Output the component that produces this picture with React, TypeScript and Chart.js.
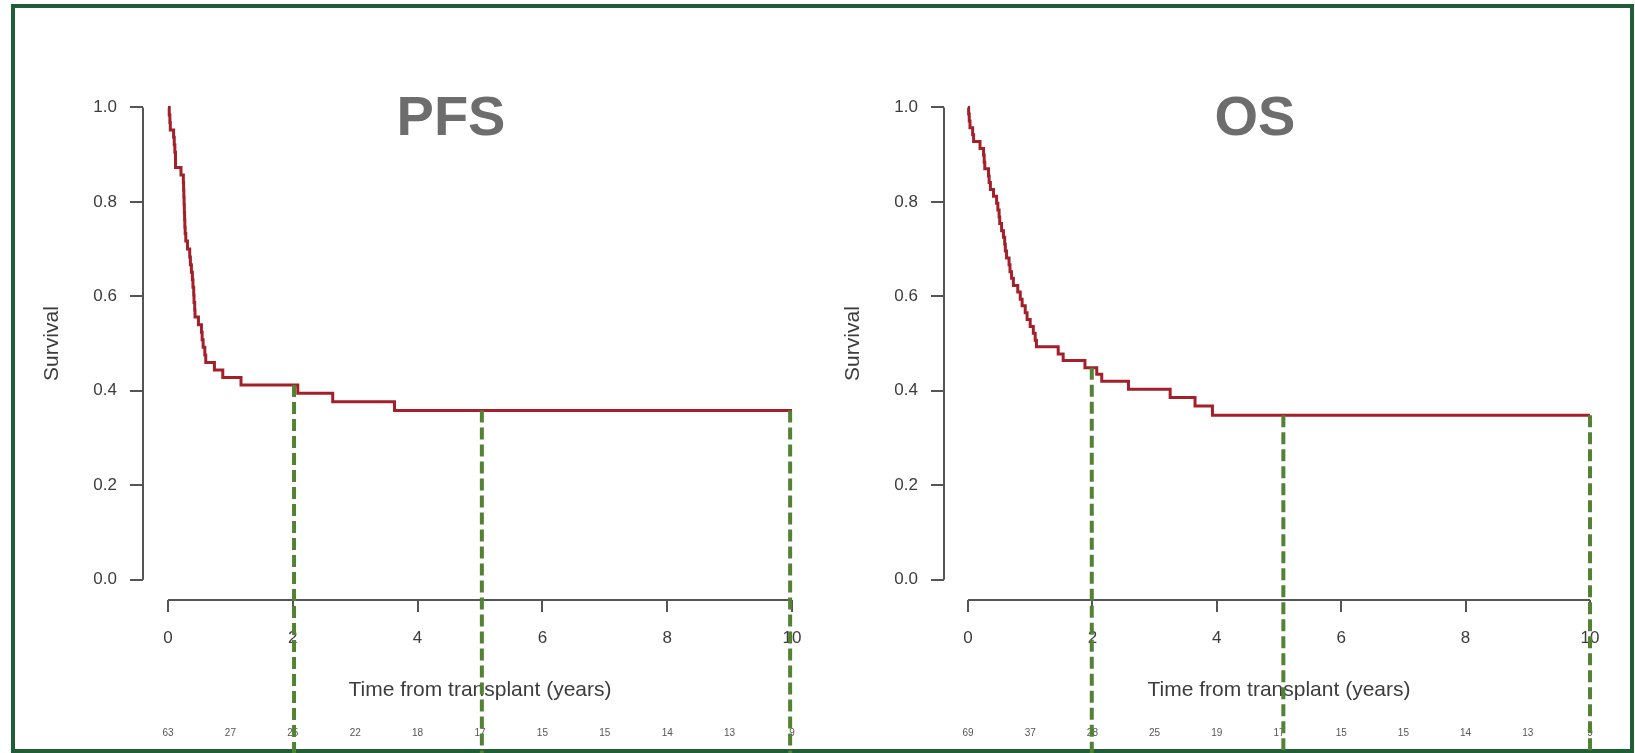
import React, { useEffect, useRef } from "react";
import { Chart, registerables } from "chart.js";

Chart.register(...registerables);

// ---------- data ----------
const X_TICKS = [0, 2, 4, 6, 8, 10];
const Y_TICKS = [0, 0.2, 0.4, 0.6, 0.8, 1.0];
const RISK_TIMES = [0, 1, 2, 3, 4, 5, 6, 7, 8, 9, 10];

const PFS_TIME = [0, 0.02, 0.03, 0.037, 0.09, 0.1, 0.11, 0.12, 0.208, 0.246, 0.25, 0.254, 0.258, 0.262, 0.266, 0.27, 0.275, 0.285, 0.312, 0.348, 0.359, 0.375, 0.391, 0.4, 0.412, 0.417, 0.428, 0.433, 0.488, 0.536, 0.547, 0.563, 0.59, 0.605, 0.744, 0.878, 1.17, 2.08, 2.64, 3.63, 10];
const PFS_SURV = [1.0, 0.984, 0.968, 0.952, 0.937, 0.921, 0.905, 0.873, 0.857, 0.841, 0.825, 0.81, 0.794, 0.778, 0.762, 0.746, 0.733, 0.717, 0.7, 0.683, 0.667, 0.651, 0.635, 0.619, 0.603, 0.587, 0.571, 0.556, 0.54, 0.524, 0.508, 0.492, 0.476, 0.46, 0.444, 0.428, 0.412, 0.395, 0.377, 0.358, 0.358];
const PFS_RISK = [63, 27, 25, 22, 18, 17, 15, 15, 14, 13, 9];
const PFS_MARKS = [2.02, 5.03, 9.97];

const OS_TIME = [0, 0.01, 0.02, 0.032, 0.075, 0.09, 0.193, 0.25, 0.26, 0.27, 0.33, 0.34, 0.36, 0.41, 0.46, 0.48, 0.5, 0.51, 0.54, 0.57, 0.59, 0.6, 0.62, 0.66, 0.675, 0.7, 0.73, 0.8, 0.84, 0.87, 0.92, 0.95, 1.0, 1.05, 1.08, 1.1, 1.45, 1.53, 1.88, 2.07, 2.15, 2.58, 3.25, 3.65, 3.93, 10];
const OS_SURV = [1.0, 0.986, 0.971, 0.957, 0.942, 0.928, 0.913, 0.899, 0.884, 0.87, 0.855, 0.841, 0.826, 0.812, 0.797, 0.783, 0.768, 0.754, 0.739, 0.725, 0.71, 0.696, 0.681, 0.667, 0.652, 0.638, 0.623, 0.609, 0.594, 0.58, 0.565, 0.551, 0.536, 0.522, 0.507, 0.493, 0.478, 0.464, 0.449, 0.435, 0.42, 0.403, 0.386, 0.368, 0.348, 0.348];
const OS_RISK = [69, 37, 28, 25, 19, 17, 15, 15, 14, 13, 9];
const OS_MARKS = [1.99, 5.07, 10.0];

// ---------- styles ----------
const FONT = '"Liberation Sans", Arial, sans-serif';
const AXIS_COLOR = "#555555";
const TEXT_COLOR = "#3c3c3c";
const CURVE_COLOR = "#a3202a";
const DASH_COLOR = "#548235";
const TITLE_COLOR = "#6d6d6d";
const FRAME_COLOR = "#1f5e36";

type Panel = {
  title: string;
  time: number[];
  surv: number[];
  risk: number[];
  marks: number[];
  width: number;
  chartLeft: number;
  chartRight: number;
  xMin: number;
  titleOffset: number;
};

function stepAt(time: number[], surv: number[], x: number) {
  let v = surv[0];
  for (let i = 0; i < time.length; i++) if (time[i] <= x) v = surv[i];
  return v;
}

const TOP = 107.4;
const BOTTOM = 600;
const H = 753;
const Y_MIN = -0.043;
const X_SCALE_H = 60;
const Y_SCALE_W = 60;

function makeChart(canvas: HTMLCanvasElement, p: Panel) {
  const data = p.time.map((t, i) => ({ x: t, y: p.surv[i] }));
  const overlay = {
    id: "kmOverlay",
    afterDraw(chart: any) {
      const { ctx, chartArea, scales } = chart;
      const xs = scales.x;
      const ys = scales.y;
      ctx.save();
      // axis lines (R style, spanning tick range only)
      const xl = xs.getPixelForValue(X_TICKS[0]);
      const xr = xs.getPixelForValue(X_TICKS[X_TICKS.length - 1]);
      const yb = ys.getPixelForValue(Y_TICKS[0]);
      const yt = ys.getPixelForValue(Y_TICKS[Y_TICKS.length - 1]);
      ctx.strokeStyle = AXIS_COLOR;
      ctx.lineWidth = 2;
      ctx.beginPath();
      ctx.moveTo(xl, chartArea.bottom);
      ctx.lineTo(xr, chartArea.bottom);
      ctx.moveTo(chartArea.left, yb);
      ctx.lineTo(chartArea.left, yt);
      ctx.stroke();

      // title
      ctx.fillStyle = TITLE_COLOR;
      ctx.font = `bold 56px ${FONT}`;
      ctx.textAlign = "center";
      ctx.textBaseline = "alphabetic";
      ctx.fillText(p.title, chartArea.left + p.titleOffset, chartArea.top + 28);

      // y title
      ctx.fillStyle = TEXT_COLOR;
      ctx.font = `21px ${FONT}`;
      ctx.save();
      ctx.translate(chartArea.left - 91, (yb + yt) / 2);
      ctx.rotate(-Math.PI / 2);
      ctx.textAlign = "center";
      ctx.textBaseline = "middle";
      ctx.fillText("Survival", 0, 0);
      ctx.restore();

      // x title
      ctx.textAlign = "center";
      ctx.textBaseline = "middle";
      ctx.fillText("Time from transplant (years)", (xl + xr) / 2, chartArea.bottom + 90);

      // numbers at risk
      ctx.font = `10px ${FONT}`;
      ctx.fillStyle = "#555555";
      RISK_TIMES.forEach((t, i) => {
        ctx.fillText(String(p.risk[i]), xs.getPixelForValue(t), chartArea.bottom + 133);
      });

      // dashed markers
      ctx.strokeStyle = DASH_COLOR;
      ctx.lineWidth = 4;
      ctx.setLineDash([12, 5]);
      p.marks.forEach((m) => {
        const x = xs.getPixelForValue(m);
        const y0 = ys.getPixelForValue(stepAt(p.time, p.surv, m));
        ctx.beginPath();
        ctx.moveTo(x, y0);
        ctx.lineTo(x, chart.height);
        ctx.stroke();
      });
      ctx.restore();
    },
  };

  return new Chart(canvas, {
    type: "line",
    data: {
      datasets: [
        {
          data,
          stepped: "before",
          borderColor: CURVE_COLOR,
          borderWidth: 3,
          pointRadius: 0,
          fill: false,
          clip: false as any,
          borderJoinStyle: "miter",
        } as any,
      ],
    },
    options: {
      responsive: false,
      animation: false,
      events: [],
      layout: {
        padding: {
          left: p.chartLeft - Y_SCALE_W,
          right: p.width - p.chartRight,
          top: TOP,
          bottom: H - BOTTOM - X_SCALE_H,
        },
      },
      plugins: { legend: { display: false }, tooltip: { enabled: false }, title: { display: false } },
      scales: {
        x: {
          type: "linear",
          min: p.xMin,
          max: 10,
          afterBuildTicks: (s: any) => {
            s.ticks = X_TICKS.map((v) => ({ value: v }));
          },
          afterFit: (s: any) => {
            s.height = X_SCALE_H;
          },
          border: { display: false },
          grid: { drawOnChartArea: false, drawTicks: true, tickLength: 12, color: AXIS_COLOR, lineWidth: 2 },
          ticks: {
            autoSkip: false,
            maxRotation: 0,
            padding: 16,
            color: TEXT_COLOR,
            font: { family: FONT, size: 17 },
            callback: (v: any) => String(v),
          },
        },
        y: {
          type: "linear",
          min: Y_MIN,
          max: 1,
          afterBuildTicks: (s: any) => {
            s.ticks = Y_TICKS.map((v) => ({ value: v }));
          },
          afterFit: (s: any) => {
            s.width = Y_SCALE_W;
          },
          border: { display: false },
          grid: { drawOnChartArea: false, drawTicks: true, tickLength: 13, color: AXIS_COLOR, lineWidth: 2 },
          ticks: {
            padding: 13,
            color: TEXT_COLOR,
            font: { family: FONT, size: 17 },
            callback: (v: any) => Number(v).toFixed(1),
          },
        },
      },
    },
    plugins: [overlay],
  } as any);
}

const PFS_PANEL: Panel = {
  title: "PFS",
  time: PFS_TIME,
  surv: PFS_SURV,
  risk: PFS_RISK,
  marks: PFS_MARKS,
  width: 820,
  chartLeft: 143,
  chartRight: 792,
  xMin: -0.4006,
  titleOffset: 308,
};

const OS_PANEL: Panel = {
  title: "OS",
  time: OS_TIME,
  surv: OS_SURV,
  risk: OS_RISK,
  marks: OS_MARKS,
  width: 815,
  chartLeft: 124,
  chartRight: 770,
  xMin: -0.3859,
  titleOffset: 311,
};

export default function App() {
  const r1 = useRef<HTMLCanvasElement>(null);
  const r2 = useRef<HTMLCanvasElement>(null);
  useEffect(() => {
    document.body.style.margin = "0";
    const c1 = makeChart(r1.current!, PFS_PANEL);
    const c2 = makeChart(r2.current!, OS_PANEL);
    return () => {
      c1.destroy();
      c2.destroy();
    };
  }, []);
  return (
    <div style={{ position: "fixed", left: 0, top: 0, width: 1635, height: 753, background: "#ffffff", overflow: "hidden" }}>
      <div
        style={{
          position: "absolute",
          left: 11,
          top: 4,
          width: 1623,
          height: 749,
          border: `4px solid ${FRAME_COLOR}`,
          boxSizing: "border-box",
        }}
      />
      <canvas ref={r1} width={820} height={753} style={{ position: "absolute", left: 0, top: 0 }} />
      <canvas ref={r2} width={815} height={753} style={{ position: "absolute", left: 820, top: 0 }} />
    </div>
  );
}
